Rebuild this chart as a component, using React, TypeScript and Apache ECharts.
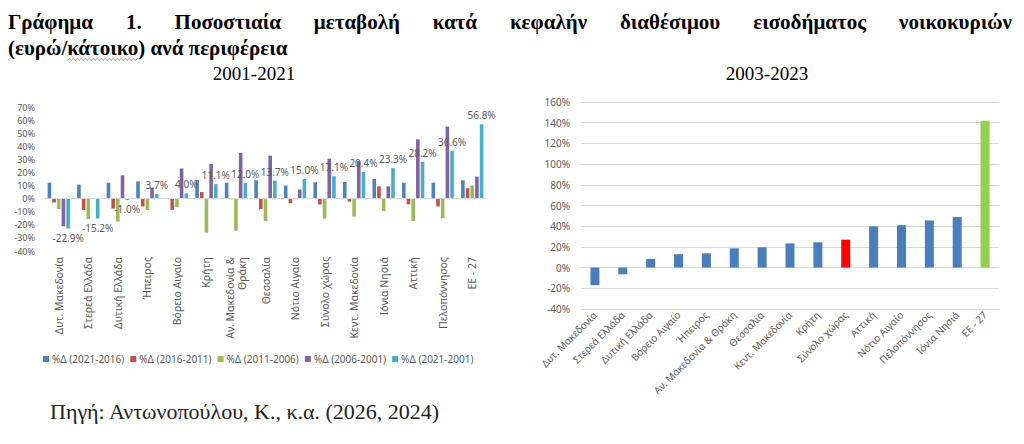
import React, { useEffect, useRef } from "react";
import * as echarts from "echarts";

// ---------- Left chart data (2001-2021) ----------
const leftCategories = [
  "Δυτ. Μακεδονία",
  "Στερεά Ελλάδα",
  "Δυτική Ελλάδα",
  "Ήπειρος",
  "Βόρειο Αιγαίο",
  "Κρήτη",
  "Αν. Μακεδονία &\nΘράκη",
  "Θεσσαλία",
  "Νότιο Αιγαίο",
  "Σύνολο χώρας",
  "Κεντ. Μακεδονία",
  "Ιόνια Νησιά",
  "Αττική",
  "Πελοπόννησος",
  "ΕΕ - 27",
];
const leftSeriesNames = [
  "%Δ (2021-2016)",
  "%Δ (2016-2011)",
  "%Δ (2011-2006)",
  "%Δ (2006-2001)",
  "%Δ (2021-2001)",
];
const d2021_2016 = [12.2, 10.7, 12.2, 13.2, null, 14.2, 12.2, 14.0, 10.0, 12.5, 12.7, 15.0, 12.2, 12.2, 14.0];
const d2016_2011 = [-3.0, -8.7, -7.6, -6.0, -8.5, 5.0, -0.5, -8.0, -3.5, -4.5, -2.3, 9.4, -4.3, -6.0, 7.9];
const d2011_2006 = [-8.0, -15.5, -17.5, -8.7, -6.5, -26.0, -24.5, -17.0, 0.5, -15.3, -13.7, -9.4, -17.0, -15.0, 10.0];
const d2006_2001 = [-21.0, 0.4, 17.8, 8.4, 23.0, 26.5, 35.0, 32.8, 7.0, 30.5, 28.8, 9.4, 45.3, 55.0, 16.8];
const d2021_2001 = [-22.9, -15.2, -1.0, 3.7, 4.0, 11.1, 12.0, 13.7, 15.0, 17.1, 20.4, 23.3, 28.2, 36.6, 56.8];
const leftTicks = { min: -40, max: 70, step: 10 };

// ---------- Right chart data (2003-2023) ----------
const rightCategories = [
  "Δυτ. Μακεδονία",
  "Στερεά Ελλάδα",
  "Δυτική Ελλάδα",
  "Βόρειο Αιγαίο",
  "Ήπειρος",
  "Αν. Μακεδονία & Θράκη",
  "Θεσσαλία",
  "Κεντ. Μακεδονία",
  "Κρήτη",
  "Σύνολο χώρας",
  "Αττική",
  "Νότιο Αιγαίο",
  "Πελοπόννησος",
  "Ιόνια Νησιά",
  "ΕΕ - 27",
];
const rightValues = [-17.0, -6.5, 8.4, 12.9, 13.8, 18.6, 19.6, 23.4, 24.4, 27.0, 39.8, 41.0, 45.6, 48.8, 142.0];
const rightTicks = { min: -40, max: 160, step: 20 };

// ---------- Texts ----------
const titleLine1Words = [
  "Γράφημα",
  "1.",
  "Ποσοστιαία",
  "μεταβολή",
  "κατά",
  "κεφαλήν",
  "διαθέσιμου",
  "εισοδήματος",
  "νοικοκυριών",
];
const titleLine2 = "(ευρώ/κάτοικο) ανά περιφέρεια";
const leftSubtitle = "2001-2021";
const rightSubtitle = "2003-2023";
const sourceText = "Πηγή: Αντωνοπούλου, Κ., κ.α. (2026, 2024)";

const LEFT_COLORS = ["#4F81BD", "#C0504D", "#9BBB59", "#8064A2", "#4BACC6"];
const GREY = "#595959";
const FONT = "Noto Sans";
const TITLE_FONT = 'bold 21px "Liberation Serif"';

export default function App() {
  const ref = useRef<HTMLDivElement>(null);

  useEffect(() => {
    if (!ref.current) return;
    const chart = echarts.init(ref.current, null, { renderer: "svg" });

    const leftData = [d2021_2016, d2016_2011, d2011_2006, d2006_2001, d2021_2001];

    const leftSeries: any[] = leftData.map((arr, i) => {
      const isLast = i === leftData.length - 1;
      return {
        type: "bar",
        name: leftSeriesNames[i],
        xAxisIndex: 0,
        yAxisIndex: 0,
        barWidth: 3.6,
        barGap: "30%",
        itemStyle: { color: LEFT_COLORS[i] },
        data: isLast
          ? arr.map((v) => ({
              value: v,
              label: { position: (v as number) < 0 ? "bottom" : "top" },
            }))
          : arr,
        label: isLast
          ? {
              show: true,
              fontSize: 10,
              color: GREY,
              fontFamily: FONT,
              distance: 4,
              formatter: (p: any) => (p.value as number).toFixed(1) + "%",
            }
          : { show: false },
        markLine:
          i === 0
            ? {
                silent: true,
                symbol: "none",
                label: { show: false },
                lineStyle: { color: "#d9d9d9", type: "solid", width: 1 },
                data: [{ yAxis: 0 }],
              }
            : undefined,
      };
    });

    // justify title line 1 between x=8 and x=1012
    const ctx = document.createElement("canvas").getContext("2d")!;
    ctx.font = TITLE_FONT;
    const widths = titleLine1Words.map((w) => ctx.measureText(w).width);
    const total = widths.reduce((a, b) => a + b, 0);
    const gap = (1012 - 8 - total) / (titleLine1Words.length - 1);
    const wordX: number[] = [];
    let cx = 8;
    widths.forEach((w) => {
      wordX.push(cx);
      cx += w + gap;
    });

    // wavy spell-check underline under "κάτοικο"
    ctx.font = TITLE_FONT;
    const sqStart = 8 + ctx.measureText("(ευρώ/").width;
    const sqEnd = sqStart + ctx.measureText("κάτοικο").width;
    const squiggle: number[][] = [];
    for (let x = sqStart, k = 0; x <= sqEnd; x += 2, k++) squiggle.push([x, k % 2 ? 58.5 : 60.5]);

    const option: any = {
      animation: false,
      backgroundColor: "#ffffff",
      textStyle: { fontFamily: FONT },
      grid: [
        { left: 44, right: 537, top: 107, bottom: 193 },
        { left: 581, right: 25, top: 102, bottom: 135 },
      ],
      legend: {
        data: leftSeriesNames,
        left: 38,
        top: 349,
        icon: "rect",
        itemWidth: 6,
        itemHeight: 6,
        itemGap: 6,
        textStyle: { fontSize: 10, color: GREY, fontFamily: FONT, padding: [0, 0, 0, -2] },
      },
      xAxis: [
        {
          gridIndex: 0,
          type: "category",
          data: leftCategories,
          axisLine: { show: false, onZero: false },
          axisTick: { show: false },
          axisLabel: {
            interval: 0,
            rotate: 90,
            fontSize: 10.5,
            color: GREY,
            fontFamily: FONT,
            margin: 6,
            lineHeight: 12,
          },
        },
        {
          gridIndex: 1,
          type: "category",
          data: rightCategories,
          axisLine: { show: false },
          axisTick: { show: false },
          axisLabel: {
            interval: 0,
            rotate: 45,
            fontSize: 10,
            color: GREY,
            fontFamily: FONT,
            margin: 4,
          },
        },
      ],
      yAxis: [
        {
          gridIndex: 0,
          type: "value",
          min: leftTicks.min,
          max: leftTicks.max,
          interval: leftTicks.step,
          splitLine: { show: false },
          axisLine: { show: false },
          axisTick: { show: false },
          axisLabel: {
            formatter: "{value}%",
            fontSize: 9,
            color: GREY,
            fontFamily: FONT,
            margin: 9,
          },
        },
        {
          gridIndex: 1,
          type: "value",
          min: rightTicks.min,
          max: rightTicks.max,
          interval: rightTicks.step,
          splitLine: { show: true, lineStyle: { color: "#d9d9d9", width: 1 } },
          axisLine: { show: false },
          axisTick: { show: false },
          axisLabel: {
            formatter: "{value}%",
            fontSize: 10,
            color: GREY,
            fontFamily: FONT,
            margin: 11,
          },
        },
      ],
      series: [
        ...leftSeries,
        {
          type: "bar",
          name: "2003-2023",
          xAxisIndex: 1,
          yAxisIndex: 1,
          barWidth: 9,
          data: rightValues,
          itemStyle: {
            color: (p: any) =>
              rightCategories[p.dataIndex] === "ΕΕ - 27"
                ? "#92D050"
                : rightCategories[p.dataIndex] === "Σύνολο χώρας"
                ? "#FF0000"
                : "#4A7EBB",
          },
        },
      ],
      graphic: [
        ...titleLine1Words.map((w, i) => ({
          type: "text",
          x: wordX[i],
          y: 11,
          style: {
            text: w,
            fill: "#000",
            font: TITLE_FONT,
            textAlign: "left",
            textVerticalAlign: "top",
          },
        })),
        {
          type: "text",
          x: 8,
          y: 37,
          style: {
            text: titleLine2,
            fill: "#000",
            font: TITLE_FONT,
            textAlign: "left",
            textVerticalAlign: "top",
          },
        },
        {
          type: "polyline",
          shape: { points: squiggle },
          style: { stroke: "#e05050", lineWidth: 0.8, fill: "none" },
        },
        {
          type: "text",
          x: 254,
          y: 64,
          style: {
            text: leftSubtitle,
            fill: "#000",
            font: '19px "Liberation Serif"',
            textAlign: "center",
            textVerticalAlign: "top",
          },
        },
        {
          type: "text",
          x: 767,
          y: 64,
          style: {
            text: rightSubtitle,
            fill: "#000",
            font: '19px "Liberation Serif"',
            textAlign: "center",
            textVerticalAlign: "top",
          },
        },
        {
          type: "text",
          x: 50,
          y: 400,
          style: {
            text: sourceText,
            fill: "#222",
            font: '22px "Liberation Serif"',
            textAlign: "left",
            textVerticalAlign: "top",
          },
        },
      ],
    };

    chart.setOption(option);
    return () => chart.dispose();
  }, []);

  return (
    <div
      ref={ref}
      style={{ position: "absolute", left: 0, top: 0, width: 1024, height: 444 }}
    />
  );
}
